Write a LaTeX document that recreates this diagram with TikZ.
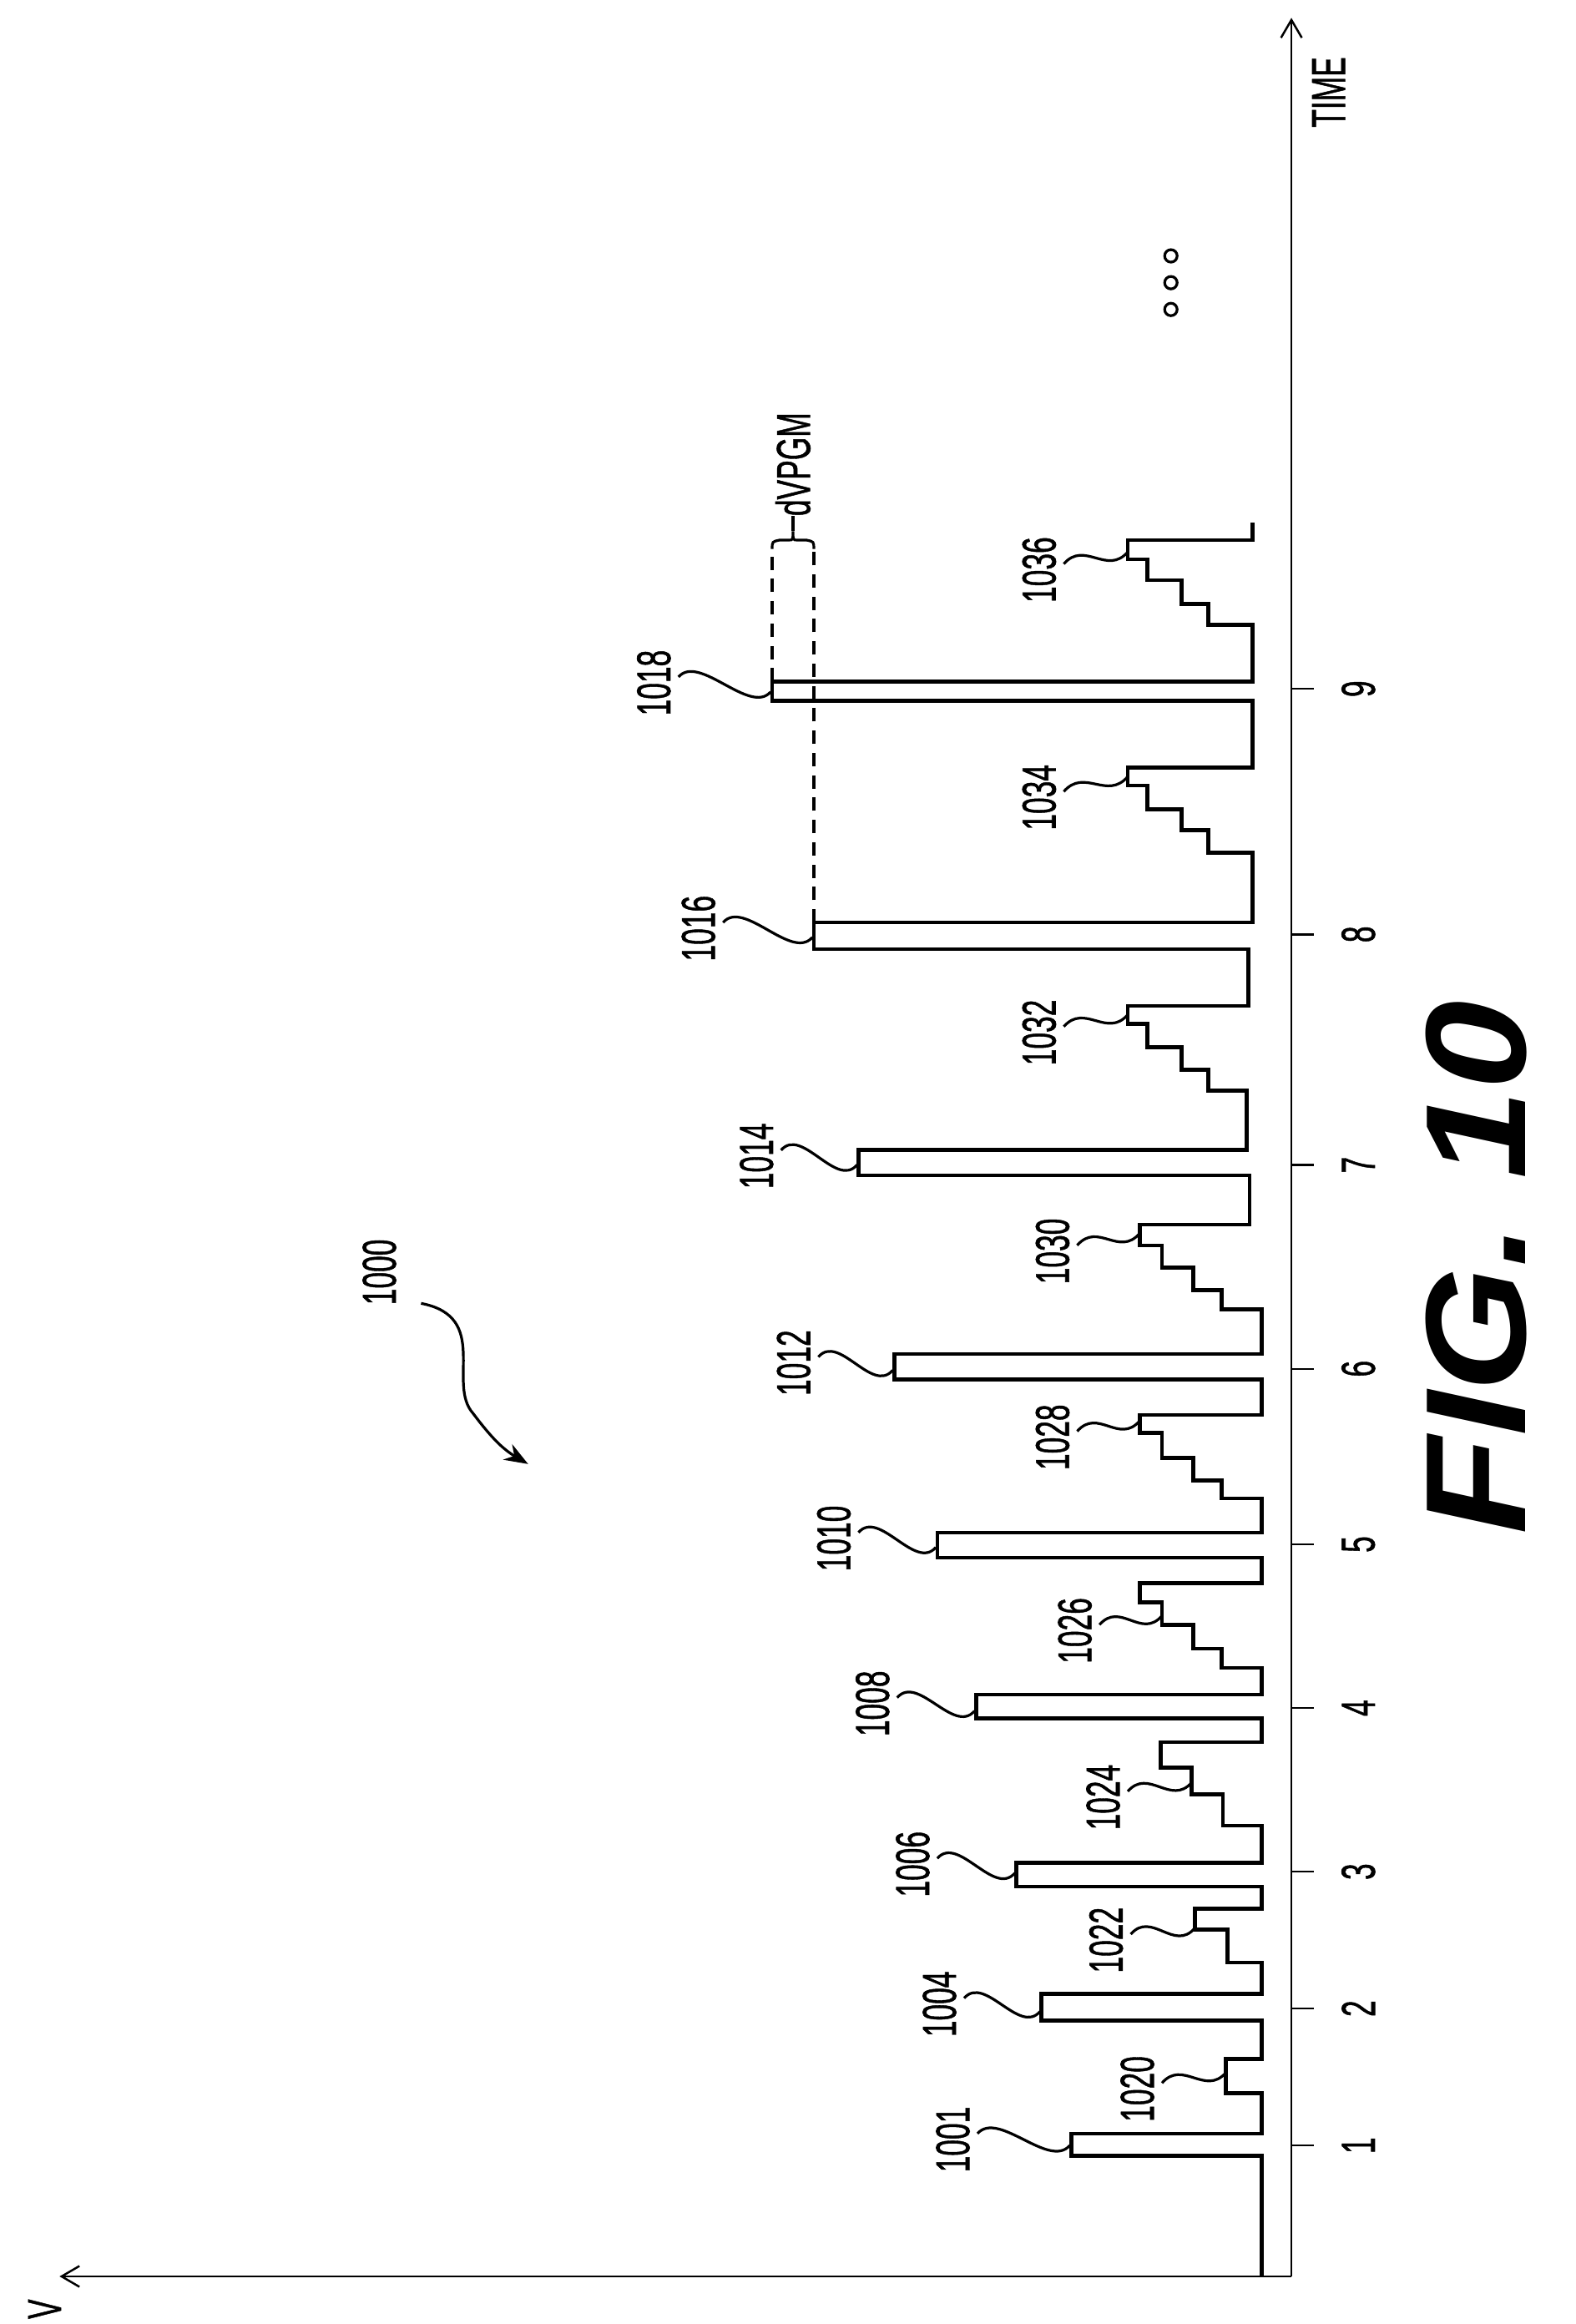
\documentclass[tikz,border=0pt]{standalone}
\usepackage{fontspec}
\setmainfont{Liberation Sans}
\newfontfamily\labfont[FakeBold=1.2]{Liberation Sans}
\usetikzlibrary{arrows.meta,calc}
\newcommand{\nrw}[1]{\scalebox{0.62}[1]{#1}}
\begin{document}
\begin{tikzpicture}[x=1pt,y=-1pt,
  wave/.style={line width=2.6pt,line join=miter},
  axis/.style={line width=1.4pt},
  lead/.style={line width=1.8pt},
  lab/.style={rotate=90,inner sep=0pt,font=\labfont\fontsize{32}{32}\selectfont},
  tlab/.style={rotate=90,inner sep=0pt,font=\labfont\fontsize{32}{32}\selectfont}]
\useasboundingbox (0,0) rectangle (1059,1562);
% axes
\coordinate (O) at (868,1530);
\coordinate (Ttop) at (868,12);
\coordinate (Vend) at (40,1530);
\draw[axis,-{Straight Barb[length=12pt,width=14pt]}] (O) -- (Ttop);
\draw[axis,-{Straight Barb[length=12pt,width=14pt]}] (O) -- (Vend);
\node[tlab,anchor=center] (time) at (893,62) {\nrw{TIME}};
\node[tlab,anchor=center] (vlab) at (30,1552) {\nrw{V}};
% ticks
\foreach \n/\y in {1/1442,2/1350,3/1258,4/1148,5/1038,6/920,7/783,8/628,9/463}{
  \draw[axis] (868,\y) -- (883,\y);
  \node[tlab] (tick\n) at (913,\y) {\nrw{\n}};
}
% waveform
\draw[wave] (848,1530) -- (848,1449) -- (720,1449) -- (720,1434) -- (848,1434) -- (848,1407) -- (824,1407) -- (824,1384) -- (848,1384) -- (848,1358) -- (700,1358) -- (700,1340) -- (848,1340) -- (848,1319) -- (825,1319) -- (825,1297)--(803,1297)--(803,1283)--(848,1283)--(848,1268)--(683,1268)--(683,1252)--(848,1252)--(848,1227)--(822,1227)--(822,1206)--(801,1206)--(801,1188)--(780,1188)--(780,1171)--(848,1171)--(848,1155)--(656,1155)--(656,1139)--(848,1139)--(848,1121)--(821,1121)--(821,1108)--(802,1108)--(802,1092)--(781,1092)--(781,1077)--(766,1077)--(766,1064)--(848,1064)--(848,1047)--(630,1047)--(630,1030)--(848,1030)--(848,1007)--(821,1007)--(821,995)--(802,995)--(802,980)--(781,980)--(781,963)--(766,963)--(766,951)--(848,951)--(848,927)--(601,927)--(601,910)--(848,910)--(848,880)--(821,880)--(821,867)--(802,867)--(802,852)--(781,852)--(781,837)--(766,837)--(766,823)--(840,823)--(840,790)--(577,790)--(577,773)--(838,773)--(838,733)--(812,733)--(812,719)--(794,719)--(794,704)--(771,704)--(771,688)--(758,688)--(758,676)--(839,676)--(839,638)--(547,638)--(547,620)--(842,620)--(842,573)--(812,573)--(812,558)--(794,558)--(794,544)--(771,544)--(771,528)--(758,528)--(758,516)--(842,516)--(842,471)--(519,471)--(519,458)--(842,458)--(842,420)--(812,420)--(812,406)--(794,406)--(794,390)--(771,390)--(771,376)--(758,376)--(758,363)--(842,363)--(842,351);
% labels with leaders
\foreach \t/\sx/\sy/\ex/\ey in {
 1001/657/1434/719/1442, 1004/648/1343/699/1352, 1006/630/1249/682/1259,
 1008/603/1141/655/1150, 1010/577/1030/629/1040, 1012/550/912/600/921,
 1014/525/773/576/783, 1016/486/620/546/630, 1018/456/455/518/465,
 1020/781/1400/824/1393, 1022/760/1300/803/1296, 1024/758/1204/801/1198,
 1026/739/1092/781/1086, 1028/724/962/766/955, 1030/724/837/766/829,
 1032/715/690/758/682, 1034/715/532/758/522, 1036/715/379/758/371}{
  \coordinate (s\t) at (\sx,\sy);
  \coordinate (e\t) at (\ex,\ey);
  \node[lab,anchor=south] (n\t) at ($(s\t)+(-5,4)$) {\nrw{\t}};
  \draw[lead] (s\t) .. controls +(14,-16) and +(-14,16) .. (e\t);
}
% dVPGM
\coordinate (d18) at (519,458);
\coordinate (d16) at (547,620);
\draw[line width=2.4pt,dash pattern=on 9pt off 6pt] (d18) -- (519,369);
\draw[line width=2.4pt,dash pattern=on 9pt off 6pt] (d16) -- (547,369);
\draw[lead] (519,369) .. controls (519,364) .. (524,363) -- (530,363) .. controls (533,363) .. (533,357) .. controls (533,363) .. (536,363) -- (542,363) .. controls (547,364) .. (547,369);
\coordinate (btip) at (533,357);
\node[lab,anchor=west] (dv) at (533,347) {\nrw{dVPGM}};
\draw[lead] (btip) -- (dv.west);
% ellipsis
\foreach \y in {172,190,208}{\draw[line width=1.8pt] (787,\y) circle (4.2);}
% 1000
\node[lab] (n1000) at (255,855) {\nrw{1000}};
\coordinate (a1000) at (355,984);
\draw[lead,-{Stealth[length=16pt,width=12pt]}] (283,876) .. controls (330,885) and (300,930) .. (318,950) .. controls (330,966) and (338,974) .. (a1000);
% FIG
\node[rotate=90,inner sep=0pt,font=\fontsize{96}{96}\selectfont\bfseries\itshape] (fig) at (992,852) {\scalebox{1.12}[1]{FIG. 10}};
\end{tikzpicture}
\end{document}
